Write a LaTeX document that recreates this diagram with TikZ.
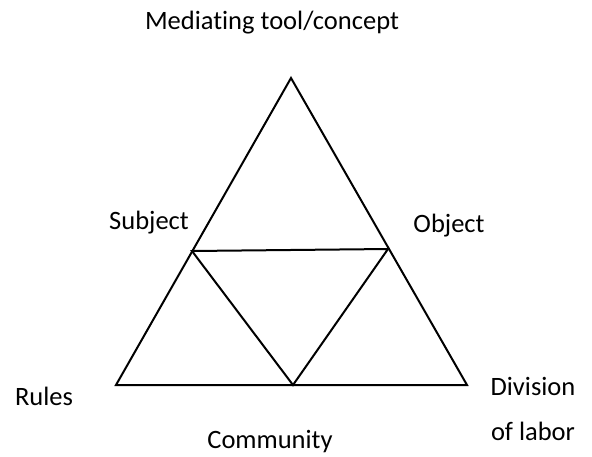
\documentclass[tikz,border=0pt]{standalone}
\usepackage{fontspec}
\setmainfont[Ligatures={NoCommon}]{Carlito}
\begin{document}
\begin{tikzpicture}[x=1pt,y=-1pt,
  lbl/.style={font=\fontsize{26.5}{31}\selectfont, inner sep=0pt, anchor=base},
  edge/.style={line width=2pt, line join=miter}]
\useasboundingbox (0,0) rectangle (592,456);
\coordinate (A) at (291,78);
\coordinate (L) at (116,385);
\coordinate (R) at (467,385);
\coordinate (ML) at (192,251);
\coordinate (MR) at (388,249);
\coordinate (MB) at (293,385);
\draw[edge] (A) -- (L) -- (R) -- cycle;
\draw[edge] (ML) -- (MR) -- (MB) -- cycle;
\node[lbl] (title) at (272,29) {Mediating tool/concept};
\node[lbl] (subj) at (149,229) {Subject};
\node[lbl] (obj) at (449,232) {Object};
\node[lbl] (rules) at (44,405) {Rules};
\node[lbl] (div) at (533,395) {Division};
\node[lbl] (lab) at (533,440) {of labor};
\node[lbl] (comm) at (270,448) {Community};
\end{tikzpicture}
\end{document}
